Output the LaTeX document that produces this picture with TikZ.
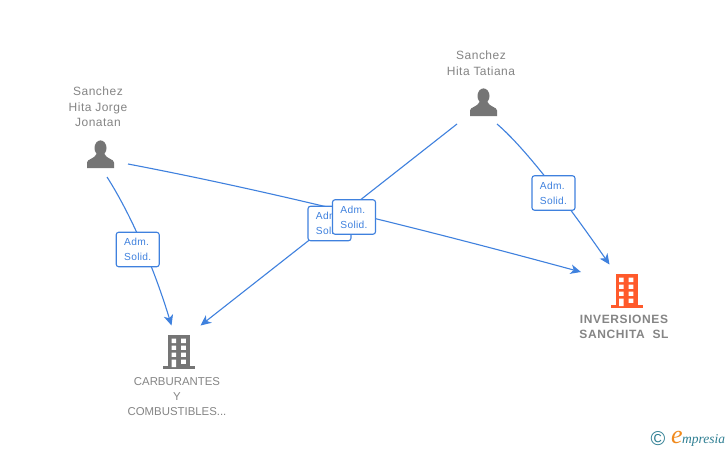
\documentclass[tikz,border=0pt]{standalone}
\usepackage{fontspec}
\setmainfont{Liberation Sans}
\newfontfamily\logofont{Liberation Serif}
\usetikzlibrary{arrows.meta}
\definecolor{edgeblue}{HTML}{3F81DE}
\definecolor{labelgrey}{HTML}{858585}
\definecolor{icongrey}{HTML}{757575}
\definecolor{orangeicon}{HTML}{FF5A2B}
\definecolor{logoteal}{HTML}{2F7F93}
\definecolor{logoorange}{HTML}{F08A1D}
\tikzset{
  x=1pt,y=-1pt,
  link/.style={draw=edgeblue,line width=1.1pt,-{Stealth[length=10.5pt,width=9.5pt,inset=3pt]}},
  adm/.style={draw=edgeblue,line width=1.1pt,fill=white,rounded corners=2.5pt,minimum width=43pt,minimum height=34.5pt,inner sep=0pt,align=left,text=edgeblue,font=\fontsize{10.2}{15}\selectfont\addfontfeature{LetterSpace=3}},
  person/.style={text=labelgrey,align=center,inner sep=0pt,font=\fontsize{12}{15.6}\selectfont\addfontfeature{LetterSpace=4}},
  company/.style={text=labelgrey,align=center,inner sep=0pt,font=\fontsize{11.4}{15}\selectfont},
  companybold/.style={text=labelgrey,align=center,inner sep=0pt,font=\fontsize{12}{15}\selectfont\bfseries\addfontfeature{LetterSpace=5}},
  personicon/.pic={
    \fill[icongrey] (0,7) ellipse (6 and 7.6);
    \fill[icongrey] (-13.5,27) -- (-13.5,21.5) .. controls (-13.5,18) and (-6,18) .. (-4,13) -- (4,13) .. controls (6,18) and (13.5,18) .. (13.5,21.5) -- (13.5,27) -- cycle;
  },
  buildingicon/.pic={
    \fill[pic actions] (-11,0) rectangle (11,31);
    \fill[pic actions] (-16,31) rectangle (16,34);
    \fill[white] (-7.5,3.5) rectangle (-3,8) (2,3.5) rectangle (6.8,8)
      (-7.5,10.5) rectangle (-3,14.8) (2,10.5) rectangle (6.8,14.8)
      (-7.5,17.5) rectangle (-3,21.8) (2,17.5) rectangle (6.8,21.8)
      (-7.5,24.5) rectangle (-3,32) (2,24.5) rectangle (6.8,28.8);
  },
}
\begin{document}
\begin{tikzpicture}
\useasboundingbox (0,0) rectangle (728,450);
\fill[white] (0,0) rectangle (728,450);
% free connector ends
\coordinate (jorgeA) at (107,177);
\coordinate (jorgeB) at (128,164);
\coordinate (tatianaA) at (457,124);
\coordinate (tatianaB) at (497,124);
\coordinate (carbA) at (171.5,325.5);
\coordinate (carbB) at (200.5,325.5);
\coordinate (invA) at (581,272);
\coordinate (invB) at (609.5,264.5);
% connectors
\draw[link] (jorgeA) .. controls (125,205) and (150,255) .. (carbA);
\draw[link] (jorgeB) .. controls (270,191) and (430,231) .. (invA);
\draw[link] (tatianaA) -- (carbB);
\draw[link] (tatianaB) .. controls (530,152) and (580,222) .. (invB);
% labels
\node[adm] (lab1) at (137.7,249.5) {Adm.\\Solid.};
\node[adm] (lab2) at (329.5,223.5) {Adm.\\Solid.};
\node[adm] (lab3) at (354,217) {Adm.\\Solid.};
\node[adm] (lab4) at (553.5,193) {Adm.\\Solid.};
% icons
\pic at (100.5,141) {personicon};
\pic at (483.5,89) {personicon};
\pic[fill=icongrey] at (179,335) {buildingicon};
\pic[fill=orangeicon] at (626.5,274) {buildingicon};
% texts
\node[person] (jorge) at (98,107) {Sanchez\\Hita Jorge\\Jonatan};
\node[person] (tatiana) at (481,63) {Sanchez\\Hita Tatiana};
\node[company] (carb) at (177,396.5) {CARBURANTES\\Y\\COMBUSTIBLES...};
\node[companybold] (inv) at (624,327) {INVERSIONES\\SANCHITA\ \ SL};
% logo
\node[inner sep=0pt,text=logoteal,font=\fontsize{20}{20}\selectfont] (copy) at (658,438.5) {©};
\node[inner sep=0pt,text=logoorange,font=\logofont\itshape\fontsize{26}{26}\selectfont] (logoe) at (677,437) {e};
\node[inner sep=0pt,anchor=base west,text=logoteal,font=\logofont\itshape\fontsize{13.5}{14}\selectfont] (logotext) at (682,443) {mpresia};
\end{tikzpicture}
\end{document}
